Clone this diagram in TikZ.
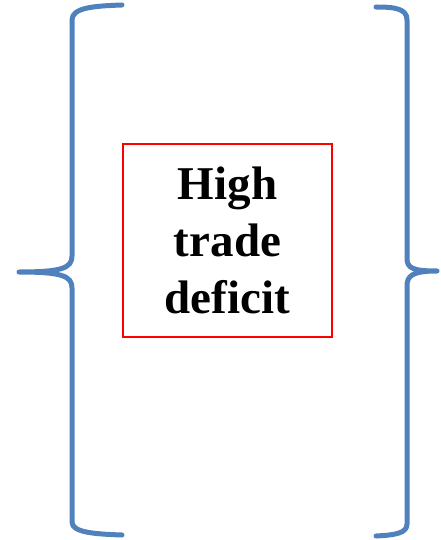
\documentclass[tikz,border=0pt]{standalone}
\usepackage{fontspec}
\setmainfont{Liberation Serif}
\definecolor{braceblue}{RGB}{79,129,189}
\begin{document}
\begin{tikzpicture}[x=1pt,y=-1pt,
  bracestyle/.style={draw=braceblue,line width=5pt,line cap=round,line join=round},
  boxstyle/.style={draw=red,line width=1.5pt,minimum width=209pt,minimum height=193pt,inner sep=0pt,
    align=center,font=\fontsize{47}{57}\selectfont\bfseries}]
\useasboundingbox (0,0) rectangle (440,540);
% left brace
\path[bracestyle] (122,5) .. controls (92,6) and (72,8) .. (72,20) -- (72,256)
  .. controls (72,268) and (62,272) .. (19,272)
  .. controls (62,272) and (72,276) .. (72,288) -- (72,522)
  .. controls (72,532) and (92,534) .. (122,535);
% right brace
\path[bracestyle] (376,7) .. controls (396,7) and (407,9) .. (407,20) -- (407,258)
  .. controls (407,268) and (412,271) .. (437,271)
  .. controls (412,271) and (407,276) .. (407,286) -- (407,524)
  .. controls (407,533) and (396,535) .. (376,536);
\node[boxstyle] (box) at (227.5,240.5) {High\\trade\\deficit};
\end{tikzpicture}
\end{document}
